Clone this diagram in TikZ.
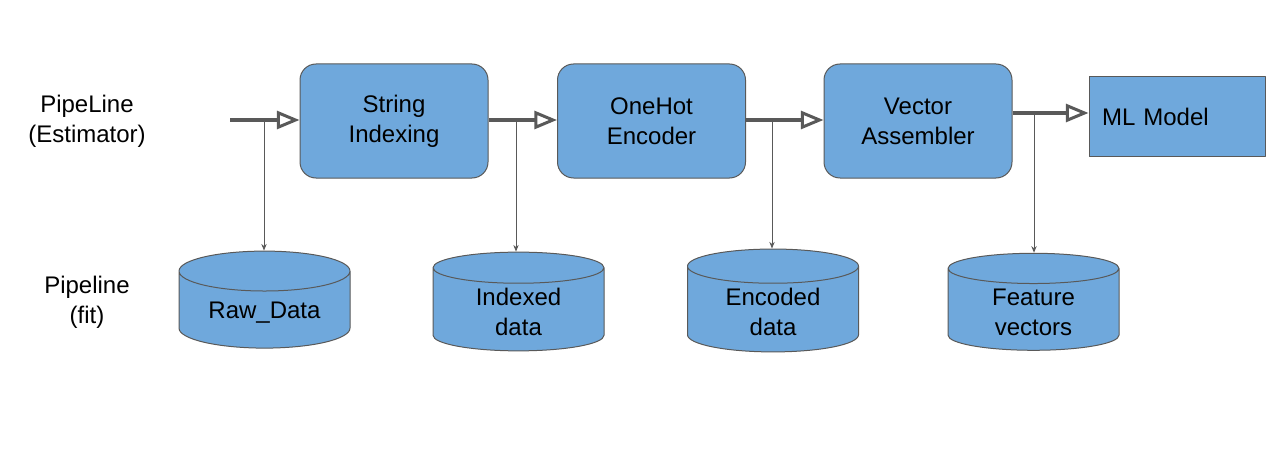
\documentclass[tikz,border=0pt]{standalone}
\usepackage{fontspec}
\setmainfont{Liberation Sans}
\usetikzlibrary{arrows.meta,shapes.geometric}
\definecolor{boxblue}{HTML}{6FA8DC}
\definecolor{edgegray}{HTML}{595959}

\begin{document}
\begin{tikzpicture}[x=0.75pt,y=-0.75pt,line join=round,
    font=\fontsize{18}{22.5}\selectfont,
    stage/.style={draw=edgegray,fill=boxblue,rounded corners=12pt,line width=0.75pt,
        minimum width=141pt,minimum height=85.5pt,align=center},
    store/.style={cylinder,shape border rotate=90,aspect=0.33,draw=edgegray,fill=boxblue,
        line width=0.75pt,minimum width=128.25pt,minimum height=72.75pt,align=center},
    flow/.style={draw=edgegray,line width=3pt,
        -{Triangle[open,length=17pt,width=13.5pt,line width=2.25pt]}},
    tap/.style={draw=edgegray,line width=0.75pt,-{Stealth[length=5pt,width=4pt]}}]
    \useasboundingbox (0,0) rectangle (1280,474);
    % row labels
    \node[align=center] (est) at (87,121) {PipeLine\\(Estimator)};
    \node[align=center] (fit) at (87,302) {Pipeline\\(fit)};
    % stages
    \node[stage] (si) at (394,121) {String\\Indexing};
    \node[stage] (oh) at (651.5,121) {OneHot\\Encoder};
    \node[stage] (va) at (918,121) {Vector\\Assembler};
    \node[draw=edgegray,fill=boxblue,line width=0.75pt,minimum width=132pt,minimum height=60pt,
        text width=112.5pt,align=left] (ml) at (1177,117) {ML Model};
    % stored data
    \node[store] (raw) at (264.5,313) {Raw\_Data};
    \node[store] (idx) at (518.5,312) {Indexed\\data};
    \node[store] (enc) at (773,312) {Encoded\\data};
    \node[store] (feat) at (1033.5,312) {Feature\\vectors};
    % taps
    \coordinate (in) at (230,120);
    \coordinate (t1) at (264,120);
    \coordinate (t2) at (516,120);
    \coordinate (t3) at (772,120);
    \coordinate (t4) at (1034,113);
    \draw[flow] (in) -- (in -| si.west);
    \draw[flow] (si.east |- t2) -- (t2 -| oh.west);
    \draw[flow] (oh.east |- t3) -- (t3 -| va.west);
    \draw[flow] (va.east |- t4) -- (t4 -| ml.west);
    \draw[tap] (t1) -- (t1 |- raw.north);
    \draw[tap] (t2) -- (t2 |- idx.north);
    \draw[tap] (t3) -- (t3 |- enc.north);
    \draw[tap] (t4) -- (t4 |- feat.north);
\end{tikzpicture}
\end{document}
